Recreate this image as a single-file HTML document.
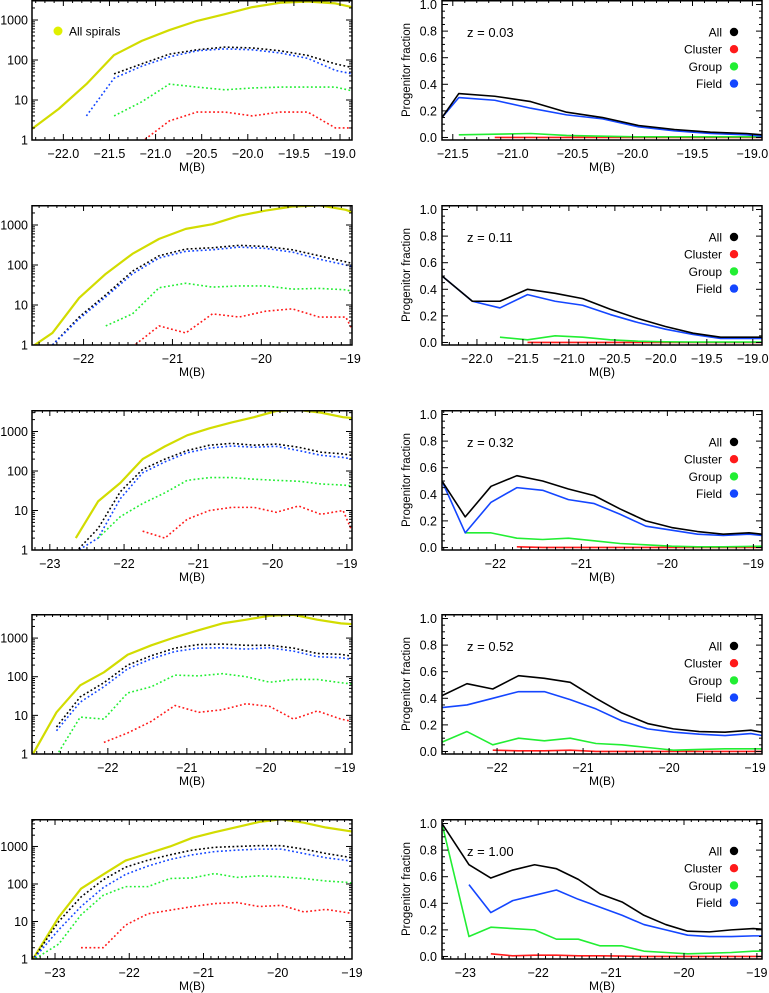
<!DOCTYPE html>
<html><head><meta charset="utf-8"><title>Progenitor fractions</title>
<style>
html,body{margin:0;padding:0;background:#fff;}
svg{display:block;font-family:"Liberation Sans",sans-serif;}
text{font-weight:500;}
</style></head>
<body>
<svg id="fig" width="769" height="993" viewBox="0 0 769 993" xmlns="http://www.w3.org/2000/svg"></svg>
<script>
// ---------- data: left panels (number counts, log) ----------
const L1M=[-22.34,-22.05,-21.75,-21.45,-21.15,-20.85,-20.55,-20.25,-19.95,-19.65,-19.35,-19.05,-18.87];
const L1Spiral=[1.9,6,25,133,300,560,950,1400,2100,2700,2900,2600,2100];
const L1All=[null,null,null,45,80,140,180,210,200,170,130,80,65];
const L1Field=[null,null,4,35,70,120,170,190,180,150,110,55,45];
const L1Group=[null,null,null,4,9,25,21,18,20,21,21,21,17];
const L1Cluster=[null,null,null,null,0.9,3,5,5,4,5,5,2,2];

const L2M=[-22.58,-22.35,-22.05,-21.75,-21.45,-21.15,-20.85,-20.55,-20.25,-19.95,-19.65,-19.35,-19.05,-18.98];
const L2Spiral=[0.9,2,15,60,190,450,800,1050,1700,2300,2900,3100,2400,2100];
const L2All=[null,1,5,18,70,170,250,270,310,290,240,170,120,110];
const L2Field=[null,1,4.5,16,60,150,220,240,280,260,210,140,100,90];
const L2Group=[null,null,null,3,6,27,35,28,30,30,25,26,24,22];
const L2Cluster=[null,null,null,null,0.9,3,2,6,5,7,8,5,5,2.5];

const L3M=[-22.65,-22.35,-22.05,-21.75,-21.45,-21.15,-20.85,-20.55,-20.25,-19.95,-19.65,-19.35,-19.05,-18.93];
const L3Spiral=[2,17,50,200,420,800,1200,1700,2300,3300,3500,3000,2300,2200];
const L3All=[0.9,3.5,30,110,200,330,450,500,450,480,400,300,270,250];
const L3Field=[0.9,2,20,90,170,290,380,430,400,420,330,250,220,200];
const L3Group=[null,2,7,15,28,58,68,68,62,58,55,47,44,42];
const L3Cluster=[null,null,null,3,2,6,10,12,12,9,13,8,10,3];

const L4M=[-22.96,-22.65,-22.35,-22.05,-21.75,-21.45,-21.15,-20.85,-20.55,-20.25,-19.95,-19.65,-19.35,-19.05,-18.91];
const L4Spiral=[0.9,12,60,130,370,650,1050,1600,2400,3000,3800,4000,3000,2400,2300];
const L4All=[null,5,30,70,200,350,550,680,700,650,650,550,400,380,340];
const L4Field=[null,4,22,55,160,290,450,550,560,520,560,460,330,310,280];
const L4Group=[null,0.9,9,8,38,55,110,105,120,100,72,85,85,70,65];
const L4Cluster=[null,null,null,2,3.5,7,18,12,14,20,17,8,13,8,7];

const L5M=[-23.31,-22.95,-22.65,-22.35,-22.05,-21.75,-21.45,-21.15,-20.85,-20.55,-20.25,-19.95,-19.65,-19.35,-19.05,-19.0];
const L5Spiral=[0.9,13,75,180,420,650,1000,1700,2400,3300,4500,5300,4300,3200,2600,2500];
const L5All=[0.9,10,45,130,280,430,600,800,950,1000,1050,1050,850,650,520,500];
const L5Field=[0.9,6,25,80,180,300,450,600,730,800,850,850,650,500,420,400];
const L5Group=[0.9,2.5,15,50,85,85,140,145,190,150,165,155,140,120,110,105];
const L5Cluster=[null,null,2,2,8,16,20,25,30,32,25,27,18,21,17,16];

// ---------- data: right panels (progenitor fractions) ----------
const R1M=[-21.59,-21.45,-21.15,-20.85,-20.55,-20.25,-19.95,-19.65,-19.35,-19.05,-18.92];
const R1All=[0.15,0.33,0.31,0.27,0.19,0.15,0.09,0.06,0.04,0.03,0.02];
const R1Field=[0.15,0.30,0.28,0.22,0.17,0.14,0.08,0.05,0.03,0.02,0.01];
const R1Group=[null,0.02,0.025,0.03,0.015,0.01,0.005,0.005,0.005,0.005,0.005];
const R1Cluster=[null,null,0,0,0,0,0,0,0,0,0];

const R2M=[-22.38,-22.05,-21.75,-21.45,-21.15,-20.85,-20.55,-20.25,-19.95,-19.65,-19.35,-19.05,-18.9];
const R2All=[0.5,0.31,0.31,0.40,0.37,0.33,0.25,0.18,0.12,0.07,0.04,0.04,0.04];
const R2Field=[0.5,0.31,0.26,0.36,0.31,0.28,0.21,0.15,0.10,0.06,0.03,0.03,0.03];
const R2Group=[null,null,0.04,0.02,0.05,0.04,0.02,0.01,0.005,0.003,0.003,0.003,0.003];
const R2Cluster=[null,null,null,0,0,0,0,0,0,0,0,0,0];

const R3M=[-22.62,-22.35,-22.05,-21.75,-21.45,-21.15,-20.85,-20.55,-20.25,-19.95,-19.65,-19.35,-19.05,-18.9];
const R3All=[0.5,0.23,0.46,0.54,0.50,0.44,0.39,0.29,0.20,0.15,0.12,0.10,0.11,0.10];
const R3Field=[0.5,0.11,0.34,0.45,0.43,0.36,0.33,0.25,0.16,0.13,0.10,0.09,0.10,0.09];
const R3Group=[null,0.11,0.11,0.07,0.06,0.07,0.05,0.03,0.02,0.01,0.005,0.005,0.008,0.01];
const R3Cluster=[null,null,null,0.005,0,0,0,0,0,0,0,0,0,0];

const R4M=[-22.64,-22.35,-22.05,-21.75,-21.45,-21.15,-20.85,-20.55,-20.25,-19.95,-19.65,-19.35,-19.05,-18.92];
const R4All=[0.42,0.51,0.47,0.57,0.55,0.52,0.40,0.29,0.21,0.17,0.15,0.145,0.16,0.145];
const R4Field=[0.33,0.35,0.40,0.45,0.45,0.39,0.32,0.23,0.17,0.145,0.13,0.12,0.135,0.12];
const R4Group=[0.07,0.15,0.05,0.10,0.08,0.10,0.06,0.05,0.03,0.01,0.015,0.02,0.02,0.02];
const R4Cluster=[null,null,0.01,0.005,0.005,0.01,0,0,0,0,0,0,0,0];

const R5M=[-23.32,-22.95,-22.65,-22.35,-22.05,-21.75,-21.45,-21.15,-20.85,-20.55,-20.25,-19.95,-19.65,-19.35,-19.05,-18.93];
const R5All=[1.0,0.69,0.59,0.65,0.69,0.66,0.58,0.47,0.41,0.31,0.24,0.19,0.185,0.20,0.21,0.205];
const R5Field=[null,0.54,0.33,0.42,0.46,0.50,0.43,0.37,0.31,0.24,0.20,0.16,0.15,0.15,0.155,0.155];
const R5Group=[1.0,0.15,0.22,0.21,0.20,0.13,0.13,0.08,0.08,0.04,0.03,0.02,0.025,0.03,0.04,0.04];
const R5Cluster=[null,null,0.02,0.005,0.01,0.01,0.005,0.005,0.003,0,0,0,0,0,0,0];

// tick label arrays
const X1Ticks=[-22.0,-21.5,-21.0,-20.5,-20.0,-19.5,-19.0];
const XIntTicks=[-23,-22,-21,-20,-19];
const LogTicks=[1,10,100,1000];
const FracTicks=[0.0,0.2,0.4,0.6,0.8,1.0];
const zLabels=["0.03","0.11","0.32","0.52","1.00"];
const legendNames=["All","Cluster","Group","Field"];

const COL={all:"#000000",cluster:"#ff1a1a",group:"#22ee33",field:"#1446ff",spiral:"#d2dc00"};
const NS="http://www.w3.org/2000/svg";
const svg=document.getElementById("fig");
function mk(tag,attrs,parent){const e=document.createElementNS(NS,tag);for(const k in attrs)e.setAttribute(k,attrs[k]);(parent||svg).appendChild(e);return e;}

const tops=[0,205,410,614,819];
const H=140;
const leftCfg=[
 {xmin:-22.34,xmax:-18.87,ymax:3162,ticks:X1Ticks,dec:1,M:L1M,s:[L1Spiral,L1All,L1Field,L1Group,L1Cluster]},
 {xmin:-22.58,xmax:-18.98,ymax:3162,ticks:XIntTicks,dec:0,M:L2M,s:[L2Spiral,L2All,L2Field,L2Group,L2Cluster]},
 {xmin:-23.24,xmax:-18.93,ymax:3500,ticks:XIntTicks,dec:0,M:L3M,s:[L3Spiral,L3All,L3Field,L3Group,L3Cluster]},
 {xmin:-22.96,xmax:-18.91,ymax:4200,ticks:XIntTicks,dec:0,M:L4M,s:[L4Spiral,L4All,L4Field,L4Group,L4Cluster]},
 {xmin:-23.31,xmax:-19.0,ymax:5400,ticks:XIntTicks,dec:0,M:L5M,s:[L5Spiral,L5All,L5Field,L5Group,L5Cluster]}
];
const rightCfg=[
 {xmin:-21.59,xmax:-18.92,ticks:X1Ticks,dec:1,M:R1M,s:[R1All,R1Cluster,R1Group,R1Field]},
 {xmin:-22.38,xmax:-18.9,ticks:X1Ticks,dec:1,M:R2M,s:[R2All,R2Cluster,R2Group,R2Field]},
 {xmin:-22.62,xmax:-18.9,ticks:XIntTicks,dec:0,M:R3M,s:[R3All,R3Cluster,R3Group,R3Field]},
 {xmin:-22.64,xmax:-18.92,ticks:XIntTicks,dec:0,M:R4M,s:[R4All,R4Cluster,R4Group,R4Field]},
 {xmin:-23.32,xmax:-18.93,ticks:XIntTicks,dec:0,M:R5M,s:[R5All,R5Cluster,R5Group,R5Field]}
];

function fmt(v,dec){return (v<0?"\u2212":"")+Math.abs(v).toFixed(dec);}

function pathFrom(M,vals,sx,sy){
  let d="",pen=false;
  for(let i=0;i<M.length;i++){
    const v=vals[i];
    if(v===null||v===undefined){pen=false;continue;}
    d+=(pen?"L":"M")+sx(M[i]).toFixed(2)+","+sy(v).toFixed(2);pen=true;
  }
  return d;
}

function xAxis(g,x0,x1,top,cfg,sx){
  const bot=top+H;
  for(let m=Math.ceil(cfg.xmin*10);m<=Math.floor(cfg.xmax*10);m++){
    const x=sx(m/10);const major=(m%5===0&&cfg.dec===1)||(m%10===0);
    const len=major?6:3;
    mk("line",{x1:x,y1:bot,x2:x,y2:bot-len,stroke:"#000","stroke-width":1},g);
    mk("line",{x1:x,y1:top,x2:x,y2:top+len,stroke:"#000","stroke-width":1},g);
  }
  cfg.ticks.forEach(t=>{
    if(t<cfg.xmin-0.01||t>cfg.xmax+0.01)return;
    const tl=mk("text",{x:sx(t),y:bot+18,"text-anchor":"middle","font-size":"12.5"},g);
    
    
    tl.textContent=fmt(t,cfg.dec);
  });
  const xl=mk("text",{x:(x0+x1)/2,y:bot+31,"text-anchor":"middle","font-size":"12"},g);
  
  
  xl.textContent="M(B)";
}

function frame(g,x0,top){
  const r=mk("rect",{x:x0,y:top+0.75,width:320,height:H-0.75,fill:"none",stroke:"#000","stroke-width":1.5},g);
  
  
}

// ---------- left panels ----------
leftCfg.forEach((cfg,p)=>{
  const top=tops[p],x0=32,x1=352,bot=top+H;
  const g=mk("g",{});
  
  
  const sx=m=>x0+(m-cfg.xmin)/(cfg.xmax-cfg.xmin)*(x1-x0);
  const sy=v=>bot-Math.log10(v)/Math.log10(cfg.ymax)*H;
  const cid="clipL"+p;
  const cp=mk("clipPath",{id:cid},g);mk("rect",{x:x0,y:top,width:320,height:H},cp);
  const dg=mk("g",{"clip-path":"url(#"+cid+")"},g);
  const styles=[
    {c:COL.spiral,w:2.2,dash:null,n:"all-spirals-line"},
    {c:COL.all,w:1.6,dash:"1.8 2.4",n:"all-progenitors-line"},
    {c:COL.field,w:1.6,dash:"1.8 2.4",n:"field-line"},
    {c:COL.group,w:1.6,dash:"1.8 2.4",n:"group-line"},
    {c:COL.cluster,w:1.6,dash:"1.8 2.4",n:"cluster-line"}];
  cfg.s.forEach((vals,i)=>{
    const st=styles[i];
    const a={d:pathFrom(cfg.M,vals,sx,sy),fill:"none",stroke:st.c,"stroke-width":st.w,"stroke-linejoin":"round"};
    if(st.dash)a["stroke-dasharray"]=st.dash;
    const pth=mk("path",a,dg);
    
    
  });
  frame(g,x0,top);
  for(let dec=0;dec<4;dec++){
    for(let k=1;k<10;k++){
      const v=k*Math.pow(10,dec);if(v>cfg.ymax)break;
      const y=sy(v);const len=k===1?6:3;
      mk("line",{x1:x0,y1:y,x2:x0+len,y2:y,stroke:"#000","stroke-width":1},g);
      mk("line",{x1:x1,y1:y,x2:x1-len,y2:y,stroke:"#000","stroke-width":1},g);
    }
  }
  LogTicks.forEach(v=>{
    const t=mk("text",{x:x0-4,y:sy(v)+4.5,"text-anchor":"end","font-size":"12.5"},g);
    
    
    t.textContent=String(v);
  });
  xAxis(g,x0,x1,top,cfg,sx);
  if(p===0){
    const dot=mk("circle",{cx:58,cy:top+31,r:4.5,fill:"#e0f000"},g);
    
    
    const lt=mk("text",{x:69,y:top+35.5,"font-size":"12"},g);
    
    
    lt.textContent="All  spirals";
  }
});

// ---------- right panels ----------
rightCfg.forEach((cfg,p)=>{
  const top=tops[p],x0=442,x1=762,bot=top+H;
  const g=mk("g",{});
  
  
  const ymin=-0.019,ymax=1.034;
  const sx=m=>x0+(m-cfg.xmin)/(cfg.xmax-cfg.xmin)*(x1-x0);
  const sy=v=>bot-(v-ymin)/(ymax-ymin)*H;
  const cid="clipR"+p;
  const cp=mk("clipPath",{id:cid},g);mk("rect",{x:x0,y:top,width:320,height:H},cp);
  const dg=mk("g",{"clip-path":"url(#"+cid+")"},g);
  const cols=[COL.all,COL.cluster,COL.group,COL.field];
  const names=["all-fraction-line","cluster-fraction-line","group-fraction-line","field-fraction-line"];
  [1,2,3,0].forEach(i=>{
    const pth=mk("path",{d:pathFrom(cfg.M,cfg.s[i],sx,sy),fill:"none",stroke:cols[i],"stroke-width":1.6,"stroke-linejoin":"round"},dg);
    
    
  });
  frame(g,x0,top);
  for(let k=0;k<=20;k++){
    const v=k*0.05;const y=sy(v);const len=k%4===0?6:3;
    mk("line",{x1:x0,y1:y,x2:x0+len,y2:y,stroke:"#000","stroke-width":1},g);
    mk("line",{x1:x1,y1:y,x2:x1-len,y2:y,stroke:"#000","stroke-width":1},g);
  }
  FracTicks.forEach(v=>{
    const t=mk("text",{x:x0-5,y:sy(v)+4.5,"text-anchor":"end","font-size":"12.5"},g);
    
    
    t.textContent=v.toFixed(1);
  });
  const yt=mk("text",{x:0,y:0,"text-anchor":"middle","font-size":"11.5",transform:"translate(410,"+(top+70)+") rotate(-90)"},g);
  
  
  yt.textContent="Progenitor  fraction";
  xAxis(g,x0,x1,top,cfg,sx);
  const zt=mk("text",{x:467,y:top+37,"font-size":"13"},g);
  
  
  zt.textContent="z  =  "+zLabels[p];
  legendNames.forEach((n,i)=>{
    const y=top+32+i*17.2;
    const t=mk("text",{x:722,y:y+4.5,"text-anchor":"end","font-size":"12"},g);
    
    
    t.textContent=n;
    const c=mk("circle",{cx:734,cy:y,r:4.2,fill:cols[i]},g);
    
    
  });
});
</script>
</body></html>
